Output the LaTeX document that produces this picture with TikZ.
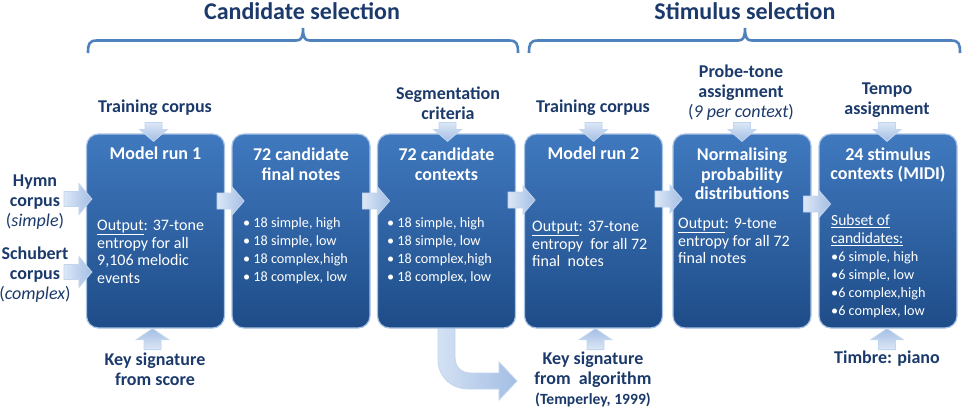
\documentclass[tikz,border=0pt]{standalone}
\usepackage{fontspec}
\setmainfont{Carlito}
\usetikzlibrary{calc}
\definecolor{navy}{HTML}{1B3A6B}
\definecolor{bracec}{HTML}{4F81BD}
\definecolor{boxtop}{HTML}{4079BF}
\definecolor{boxbot}{HTML}{1E4C88}
\definecolor{boxedge}{HTML}{A9C3E4}
\definecolor{arrlight}{HTML}{DCE7F6}
\definecolor{arrdark}{HTML}{A3BEE4}
\definecolor{arredge}{HTML}{C2D5EE}
\newcommand\blockarr[7]{%
  \path[arrowbase,#7,shift={#1},rotate=#2] (0,-#4) -- ({#3-#6},-#4) -- ({#3-#6},-#5) -- (#3,0) -- ({#3-#6},#5) -- ({#3-#6},#4) -- (0,#4) -- cycle;}
\tikzset{
  arrowbase/.style={draw=arredge, line width=0.8pt},
  rshade/.style={left color=arrlight, right color=arrdark},
  dshade/.style={top color=arrlight, bottom color=arrdark},
  ushade/.style={bottom color=arrlight, top color=arrdark},
  box/.style={rectangle, rounded corners=12pt, minimum width=138pt, minimum height=194pt, inner sep=0pt,
    top color=boxtop, bottom color=boxbot, draw=boxedge, line width=1.2pt},
  boxtitle/.style={text=white, font=\fontsize{18}{19.5}\selectfont\bfseries, align=center, inner sep=0pt},
  boxbody/.style={text=white, font=\fontsize{16}{17.5}\selectfont, align=left, inner sep=0pt, anchor=north west},
  boxbul/.style={text=white, font=\fontsize{14.2}{18}\selectfont, align=left, inner sep=0pt, anchor=north west},
  lab/.style={text=navy, font=\fontsize{18}{20}\selectfont\bfseries, align=center, inner sep=0pt},
  headlab/.style={text=navy, font=\fontsize{24}{26}\selectfont\bfseries, inner sep=0pt},
  bracestyle/.style={draw=bracec, line width=2.6pt}
}
\begin{document}
\begin{tikzpicture}[x=1pt,y=-1pt]
\useasboundingbox (0,0) rectangle (964,407);
% headings and braces
\node[headlab] (hc) at (302,11) {Candidate selection};
\node[headlab] (hs) at (745,11) {Stimulus selection};
\draw[bracestyle] (88,53) .. controls (88,44) and (89,40.5) .. (97,40.5) -- (296,40.5) .. controls (301,40.5) and (303,38) .. (303,28) .. controls (303,38) and (305,40.5) .. (310,40.5) -- (509,40.5) .. controls (517,40.5) and (518,44) .. (518,53);
\draw[bracestyle] (529,53) .. controls (529,44) and (530,40.5) .. (538,40.5) -- (738,40.5) .. controls (743,40.5) and (745,38) .. (745,28) .. controls (745,38) and (747,40.5) .. (752,40.5) -- (951,40.5) .. controls (959,40.5) and (960,44) .. (960,53);
% curved arrow (behind box 3)
\coordinate (ktip) at (517,381);
\path[arrowbase, left color=arrlight!85!arrdark, right color=arrdark] (438,322) -- (438,359) .. controls (438,377) and (451,389) .. (469,389) -- (499,389) -- (499,400) -- (ktip) -- (499,362) -- (499,373) -- (471,373) .. controls (461,373) and (455,367) .. (455,357) -- (455,322) -- cycle;
% boxes
\node[box] (b1) at (155.5,231) {};
\node[box] (b2) at (301,231) {};
\node[box] (b3) at (446.5,231) {};
\node[box] (b4) at (593.5,231) {};
\node[box] (b5) at (742,231) {};
\node[box] (b6) at (888,231) {};
% titles
\node[boxtitle] (t1) at (155.5,153) {Model run 1};
\node[boxtitle] (t2) at (301,164) {72 candidate\\final notes};
\node[boxtitle] (t3) at (446.5,164) {72 candidate\\contexts};
\node[boxtitle] (t4) at (593.5,153) {Model run 2};
\node[boxtitle] (t5) at (742,174) {Normalising\\probability\\distributions};
\node[boxtitle] (t6) at (888,165) {24 stimulus\\contexts (MIDI)};
% bodies
\node[boxbody] (d1) at (97,220) {\underline{Output}: 37-tone\\entropy for all\\9,106 melodic\\events};
\node[boxbul] (d2) at (243,217) {• 18 simple, high\\• 18 simple, low\\• 18 complex,high\\• 18 complex, low};
\node[boxbul] (d3) at (387,217) {• 18 simple, high\\• 18 simple, low\\• 18 complex,high\\• 18 complex, low};
\node[boxbody] (d4) at (532,221) {\underline{Output}: 37-tone\\entropy\ \ for all 72\\final\ \ notes};
\node[boxbody] (d5) at (678,218) {\underline{Output}: 9-tone\\entropy for all 72\\final notes};
\node[boxbul] (d6) at (831,215) {{\fontsize{15.5}{18}\selectfont\underline{Subset of}}\\{\fontsize{15.5}{18}\selectfont\underline{candidates:}}\\•6 simple, high\\•6 simple, low\\•6 complex,high\\•6 complex, low};
% outside labels
\node[lab] (l1) at (155,108) {Training corpus};
\node[lab] (l2) at (35,202) {Hymn\\corpus\\{\mdseries(\textit{simple})}};
\node[lab] (l3) at (35,274.5) {Schubert\\corpus\\{\mdseries(\textit{complex})}};
\node[lab] (l4) at (155,369) {Key signature\\from score};
\node[lab] (l5) at (448,103) {Segmentation\\criteria};
\node[lab] (l6) at (593,108) {Training corpus};
\node[lab] (l7) at (741,93) {Probe-tone\\assignment\\{\mdseries(\textit{9 per context})}};
\node[lab] (l8) at (887,100) {Tempo\\assignment};
\node[lab] (l9) at (593,379) {Key signature\\from\ \ algorithm\\{\fontsize{15.6}{18}\selectfont(Temperley, 1999)}};
\node[lab] (l10) at (887,359) {Timbre: piano};
% input arrows
\blockarr{($(b1.west)+(-22,-32)$)}{0}{28}{7.5}{15.5}{13}{rshade}
\blockarr{($(b1.west)+(-22,41)$)}{0}{28}{7.5}{15.5}{13}{rshade}
% arrows between boxes
\blockarr{($(b1.east)+(-8,-30)$)}{0}{27}{8}{14}{12}{rshade}
\blockarr{($(b2.east)+(-8,-30)$)}{0}{27}{8}{14}{12}{rshade}
\blockarr{($(b3.east)+(-8,-31)$)}{0}{27}{8}{14}{12}{rshade}
\blockarr{($(b4.east)+(-8,-32)$)}{0}{27}{8}{14}{12}{rshade}
\blockarr{($(b5.east)+(-8,-27)$)}{0}{27}{8}{14}{12}{rshade}
% down arrows
\blockarr{($(b1.north)+(-2,-11)$)}{-90}{19}{8.5}{14}{12}{dshade}
\blockarr{($(b3.north)+(1,-11)$)}{-90}{19}{8.5}{14}{12}{dshade}
\blockarr{($(b4.north)+(0,-11)$)}{-90}{19}{8.5}{14}{12}{dshade}
\blockarr{($(b5.north)+(0,-11)$)}{-90}{19}{8.5}{14}{12}{dshade}
\blockarr{($(b6.north)+(-1,-11)$)}{-90}{19}{8.5}{14}{12}{dshade}
% up arrows
\blockarr{($(b1.south)+(-3,21)$)}{90}{21}{8.5}{16}{11}{ushade}
\blockarr{($(b4.south)+(2,21)$)}{90}{21}{8.5}{16}{11}{ushade}
\blockarr{($(b6.south)+(-1,21)$)}{90}{21}{8.5}{16}{11}{ushade}
\end{tikzpicture}
\end{document}
